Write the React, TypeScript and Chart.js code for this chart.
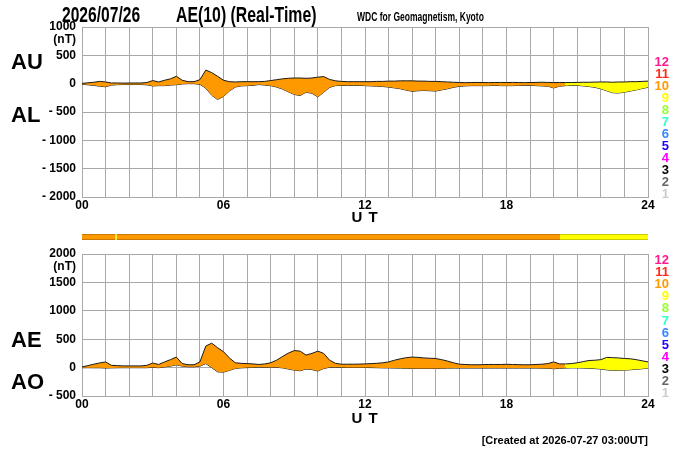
import { useEffect, useRef } from "react"
import { Chart, registerables } from "chart.js"

Chart.register(...registerables)

// UT hours, 15 min steps
const timesUT = [
  0, 0.25, 0.5, 0.75, 1, 1.25, 1.5, 1.75,
  2, 2.25, 2.5, 2.75, 3, 3.25, 3.5, 3.75,
  4, 4.25, 4.5, 4.75, 5, 5.25, 5.5, 5.75,
  6, 6.25, 6.5, 6.75, 7, 7.25, 7.5, 7.75,
  8, 8.25, 8.5, 8.75, 9, 9.25, 9.5, 9.75,
  10, 10.25, 10.5, 10.75, 11, 11.25, 11.5, 11.75,
  12, 12.25, 12.5, 12.75, 13, 13.25, 13.5, 13.75,
  14, 14.25, 14.5, 14.75, 15, 15.25, 15.5, 15.75,
  16, 16.25, 16.5, 16.75, 17, 17.25, 17.5, 17.75,
  18, 18.25, 18.5, 18.75, 19, 19.25, 19.5, 19.75,
  20, 20.25, 20.5, 20.75, 21, 21.25, 21.5, 21.75,
  22, 22.25, 22.5, 22.75, 23, 23.25, 23.5, 23.75,
  24,
]

const auValues = [
  5, 15, 25, 40, 30, 12, 12, 10,
  12, 12, 12, 20, 55, 30, 60, 85,
  130, 60, 35, 35, 70, 240, 195, 130,
  60, 35, 30, 35, 35, 35, 35, 40,
  55, 70, 85, 95, 100, 100, 95, 100,
  115, 125, 75, 50, 40, 35, 35, 35,
  35, 35, 40, 40, 45, 45, 50, 50,
  50, 45, 45, 40, 40, 35, 30, 25,
  20, 18, 20, 22, 20, 18, 20, 22,
  20, 22, 20, 18, 20, 22, 25, 22,
  20, 20, 20, 20, 22, 25, 25, 28,
  30, 30, 25, 30, 30, 35, 35, 40,
  45,
]

const alValues = [
  -10, -20, -30, -45, -55, -25, -18, -15,
  -15, -15, -15, -20, -40, -35, -35, -25,
  -18, -5, 0, 0, -12, -80, -205, -280,
  -225, -130, -60, -40, -35, -30, -15, -25,
  -35, -60, -95, -145, -190, -210, -150, -170,
  -235, -150, -65, -35, -30, -30, -30, -30,
  -35, -40, -45, -50, -60, -75, -90, -115,
  -135, -125, -120, -125, -130, -110, -90, -65,
  -47, -40, -35, -35, -35, -35, -30, -35,
  -35, -35, -32, -30, -30, -35, -40, -45,
  -75, -45, -35, -30, -30, -40, -50, -65,
  -90, -125, -160, -165, -150, -130, -110, -85,
  -65,
]

const aeValues = [
  12, 35, 60, 82, 100, 40, 35, 30,
  30, 30, 30, 40, 80, 55, 100, 140,
  185, 70, 50, 50, 100, 380, 430, 350,
  280, 170, 85, 75, 70, 65, 55, 65,
  85, 130, 195, 255, 300, 290, 220, 250,
  290, 250, 130, 75, 60, 60, 60, 62,
  65, 70, 75, 85, 100, 130, 155, 175,
  185, 180, 170, 165, 160, 140, 115, 85,
  60, 55, 50, 50, 52, 55, 55, 55,
  58, 55, 52, 50, 50, 55, 60, 70,
  100, 65, 65, 70, 85, 105, 125, 130,
  140, 180, 175, 170, 160, 155, 140, 120,
  100,
]

const aoValues = [
  -2, -2, -3, -3, -8, -5, -3, -2,
  -2, -2, -2, -2, 5, -2, 12, 25,
  50, 25, 15, 15, 25, 70, 0, -75,
  -80, -50, -15, -5, 0, 2, 10, 5,
  8, 5, -5, -25, -45, -55, -25, -35,
  -60, -15, 5, 5, 5, 3, 3, 3,
  3, 0, -2, -5, -5, -8, -10, -12,
  -15, -15, -15, -15, -15, -12, -10, -8,
  -8, -8, -8, -8, -8, -8, -8, -8,
  -8, -8, -8, -8, -8, -8, -10, -12,
  -20, -12, -8, -5, -5, -8, -12, -18,
  -25, -40, -47, -47, -45, -38, -30, -20,
  -10,
]

// number of contributing stations over the day
const segStart = [0, 1.42, 1.47, 20.27]
const segEnd = [1.42, 1.47, 20.27, 24]
const segCount = [10, 9, 10, 9]

const legendCounts = [12, 11, 10, 9, 8, 7, 6, 5, 4, 3, 2, 1]
const countColors: Record<number, string> = {
  12: "#ff1a8c", 11: "#ff2a1a", 10: "#ff9900", 9: "#ffff00",
  8: "#99ff33", 7: "#33ffcc", 6: "#3388ff", 5: "#2200ff",
  4: "#ff00ff", 3: "#000000", 2: "#666666", 1: "#cccccc",
}
const countBorders: Record<number, string> = { 10: "#b86e00", 9: "#b8b800" }

const topTicks = { min: -2000, max: 1000 }
const bottomTicks = { min: -500, max: 2000 }

const FONT = '"Liberation Sans", Arial, Helvetica, sans-serif'
const GRID = "#a8a8a8"

function countAt(x: number) {
  for (let i = 0; i < segStart.length; i++) {
    if (x >= segStart[i] && x < segEnd[i]) return segCount[i]
  }
  return segCount[segCount.length - 1]
}

function lineConfig(upper: number[], lower: number[], range: { min: number; max: number }, padTop: number, padBottom: number) {
  const pts = (vals: number[]) => timesUT.map((t, i) => ({ x: t, y: vals[i] }))
  const tickFont = { family: FONT, size: 12, weight: "bold" as const }
  return {
    type: "line",
    data: {
      datasets: [
        {
          data: pts(upper),
          borderColor: "#1a1a1a",
          borderWidth: 1,
          pointRadius: 0,
          fill: "+1",
          backgroundColor: countColors[10],
          segment: {
            backgroundColor: (ctx: any) => countColors[countAt(ctx.p0.parsed.x)],
          },
        },
        {
          data: pts(lower),
          borderColor: "#1a1a1a",
          borderWidth: 1,
          pointRadius: 0,
          fill: false,
        },
      ],
    },
    options: {
      animation: false,
      responsive: false,
      layout: { padding: { left: 0, right: 52, top: padTop, bottom: padBottom } },
      plugins: { legend: { display: false }, tooltip: { enabled: false } },
      scales: {
        x: {
          type: "linear",
          min: 0,
          max: 24,
          afterFit: (s: any) => { s.height = 23 },
          grid: { color: GRID, drawTicks: false },
          border: { color: GRID },
          ticks: {
            stepSize: 1,
            autoSkip: false,
            maxRotation: 0,
            padding: 1,
            color: "#000",
            font: tickFont,
            callback: (v: number) => (v % 6 === 0 ? String(v).padStart(2, "0") : ""),
          },
        },
        y: {
          min: range.min,
          max: range.max,
          afterFit: (s: any) => { s.width = 82 },
          grid: { color: GRID, drawTicks: false },
          border: { color: GRID },
          ticks: {
            stepSize: 500,
            padding: 6,
            color: "#000",
            font: tickFont,
            callback: (v: number) => (v < 0 ? "- " + -v : String(v)),
          },
        },
      },
    },
  }
}

function barConfig() {
  return {
    type: "bar",
    data: {
      labels: ["stations"],
      datasets: segCount.map((c, i) => ({
        data: [[segStart[i], segEnd[i]]],
        backgroundColor: countColors[c],
        borderColor: countBorders[c] || "#888",
        borderWidth: { top: 1, bottom: 1, left: 0, right: 0 },
        borderSkipped: false,
        barPercentage: 1,
        categoryPercentage: 1,
        grouped: false,
      })),
    },
    options: {
      animation: false,
      responsive: false,
      indexAxis: "y",
      layout: { padding: { left: 82, right: 52, top: 2, bottom: 2 } },
      plugins: { legend: { display: false }, tooltip: { enabled: false } },
      scales: {
        x: { type: "linear", min: 0, max: 24, display: false },
        y: { display: false },
      },
    },
  }
}

function ChartCanvas({ config, top, height }: { config: () => any; top: number; height: number }) {
  const ref = useRef<HTMLCanvasElement | null>(null)
  useEffect(() => {
    if (!ref.current) return
    const chart = new Chart(ref.current, config())
    return () => chart.destroy()
  }, [config])
  return (
    <canvas
      ref={ref}
      width={700}
      height={height}
      style={{ position: "absolute", left: 0, top, width: 700, height }}
    />
  )
}

function Label({ text, x, y, size, align = "left", color = "#000", spacing = 0, sx = 1 }: any) {
  const tx = align === "left" ? "0" : align === "right" ? "-100%" : "-50%"
  const origin = align === "left" ? "left center" : align === "right" ? "right center" : "center center"
  return (
    <div
      style={{
        position: "absolute",
        left: x,
        top: y,
        transform: `translate(${tx}, -50%) scaleX(${sx})`,
        transformOrigin: origin,
        fontFamily: FONT,
        fontWeight: "bold",
        fontSize: size,
        lineHeight: 1,
        whiteSpace: "pre",
        color,
        letterSpacing: spacing,
      }}
    >
      {text}
    </div>
  )
}

const topConfig = () => lineConfig(auValues, alValues, topTicks, 27, 0)
const bottomConfig = () => lineConfig(aeValues, aoValues, bottomTicks, 24, 31)

export default function App() {
  return (
    <div style={{ position: "absolute", left: 0, top: 0, width: 700, height: 450, background: "#fff", overflow: "hidden" }}>
      <ChartCanvas config={topConfig} top={0} height={220} />
      <ChartCanvas config={barConfig} top={232} height={10} />
      <ChartCanvas config={bottomConfig} top={230} height={220} />

      <Label text="2026/07/26" x={62} y={15} size={22} sx={0.71} />
      <Label text="AE(10) (Real-Time)" x={176} y={15} size={22} sx={0.72} />
      <Label text="WDC for Geomagnetism, Kyoto" x={357} y={17} size={12} sx={0.71} />

      <Label text="(nT)" x={76} y={39} size={12} align="right" />
      <Label text="(nT)" x={76} y={266} size={12} align="right" />

      <Label text="AU" x={11} y={62} size={22} />
      <Label text="AL" x={11} y={115} size={22} />
      <Label text="AE" x={11} y={340} size={22} />
      <Label text="AO" x={11} y={382} size={22} />

      <Label text="U T" x={365} y={216} size={15} align="center" spacing={1} />
      <Label text="U T" x={365} y={417} size={15} align="center" spacing={1} />

      {legendCounts.map((c, i) => (
        <Label key={"t" + c} text={String(c)} x={669} y={61 + i * 12} size={13} align="right" color={countColors[c]} />
      ))}
      {legendCounts.map((c, i) => (
        <Label key={"b" + c} text={String(c)} x={669} y={259 + i * 12.1} size={13} align="right" color={countColors[c]} />
      ))}

      <Label text="[Created at 2026-07-27 03:00UT]" x={648} y={440} size={11} align="right" />
    </div>
  )
}
